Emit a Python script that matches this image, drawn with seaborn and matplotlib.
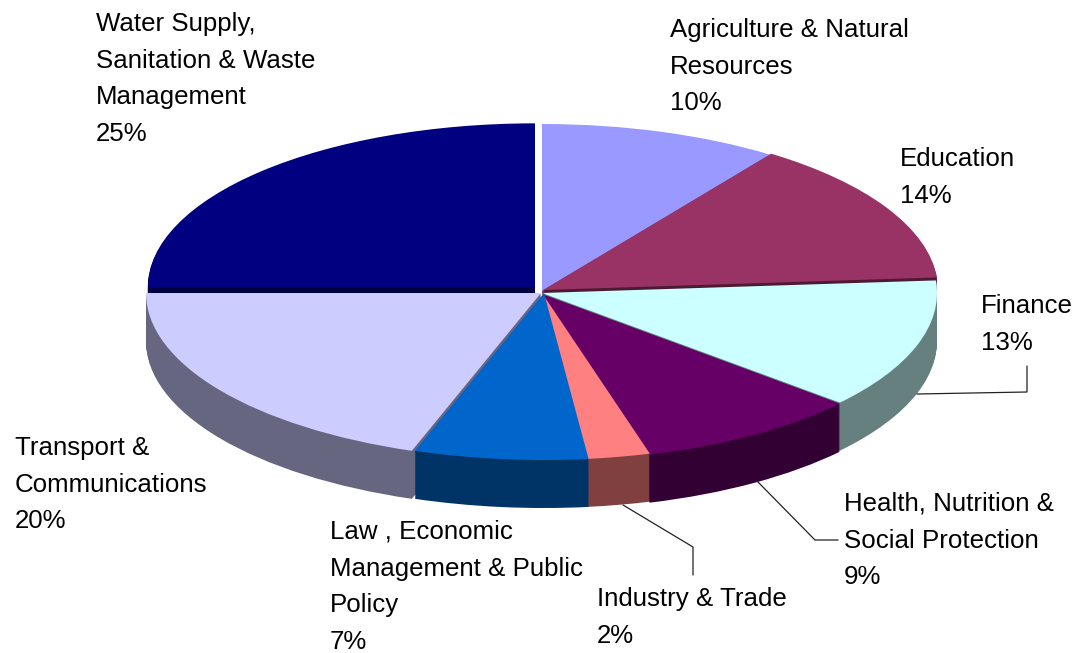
import matplotlib
matplotlib.use("Agg")
import matplotlib.pyplot as plt
import seaborn as sns

categories = ["Agriculture & Natural\nResources", "Education", "Finance",
              "Health, Nutrition &\nSocial Protection", "Industry & Trade",
              "Law , Economic\nManagement & Public\nPolicy", "Transport &\nCommunications",
              "Water Supply,\nSanitation & Waste\nManagement"]
# printed percentages
share_labels = ["10%", "14%", "13%", "9%", "2%", "7%", "20%", "25%"]
# slice sizes as measured on the picture
shares = [9.8, 14.0, 12.6, 9.2, 2.6, 7.1, 19.7, 25.0]
top_colors = ["#9999FF", "#993366", "#CCFFFF", "#660066", "#FF8080", "#0066CC", "#CCCCFF", "#000080"]
wall_colors = ["#4D4D80", "#4D1A33", "#668080", "#330033", "#804040", "#003366", "#666680", "#000040"]

W, H = 1076, 653
cx, cy = 542, 292
rx, ry = 395, 167
depth = 48

# little offset of each slice, pixels
shift_x = [0, 1, 0, 0, 0, 2, -1, -7]
shift_y = [-1, -2, 1, 2, 1, 1, 1, -5]
radius = [1, 1, 1, 1, 1, 1, 1, 0.98]

# left, top of each label block
label_x = [670, 900, 981, 844, 597, 330, 15, 96]
label_y = [18, 147, 294, 492, 587, 520, 436, 12]

sns.set_theme(style="white")
plt.rcParams["font.family"] = ["Liberation Sans", "DejaVu Sans"]

fig = plt.figure(figsize=(W / 100, H / 100), dpi=100)
ax = fig.add_axes([0, 0, 1, 1])


def draw_layer(drop, colors):
    wedges, _ = ax.pie(shares, colors=sns.color_palette(colors), startangle=90,
                       counterclock=False, wedgeprops={"linewidth": 0})
    for w, dx, dy, r in zip(wedges, shift_x, shift_y, radius):
        w.set_center((dx / rx, -(dy + drop) / ry))
        w.set_radius(r)


for drop in range(depth, 0, -1):
    draw_layer(drop, wall_colors)
draw_layer(0, top_colors)

ax.set_aspect("auto")
ax.set_xlim(-cx / rx, (W - cx) / rx)
ax.set_ylim(-(H - cy) / ry, cy / ry)
ax.axis("off")

# overlay in picture pixels for the labels and leaders
over = fig.add_axes([0, 0, 1, 1], facecolor="none")
over.set_xlim(0, W)
over.set_ylim(H, 0)
over.axis("off")

for name, share, x, y in zip(categories, share_labels, label_x, label_y):
    over.text(x, y, f"{name}\n{share}", fontsize=18.6, color="black", va="top", ha="left",
              linespacing=1.66)

over.plot([1027, 1027, 917], [366, 392, 394], color="#222222", lw=0.9)
over.plot([757, 815, 838], [481, 540, 540], color="#222222", lw=0.9)
over.plot([623, 693, 693], [505, 547, 575], color="#222222", lw=0.9)

fig.savefig("out.png", dpi=100)
